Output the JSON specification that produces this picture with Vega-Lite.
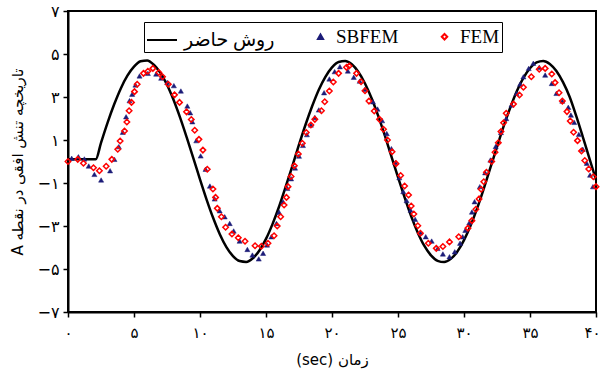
{
  "$schema": "https://vega.github.io/schema/vega-lite/v6.json",
  "width": 528,
  "height": 301,
  "autosize": "none",
  "padding": {"left": 68, "top": 11, "right": 5, "bottom": 75},
  "background": "white",
  "config": {
    "view": {"stroke": "black", "strokeWidth": 2},
    "font": "DejaVu Sans"
  },
  "datasets": {
    "line": [
      {"t": 0, "v": 0.1, "s": "روش حاضر"}, {"t": 0.5, "v": 0.1, "s": "روش حاضر"}, {"t": 1, "v": 0.1, "s": "روش حاضر"}, {"t": 1.5, "v": 0.1, "s": "روش حاضر"}, {"t": 2.1, "v": 0.1, "s": "روش حاضر"},
      {"t": 2.5, "v": 0.87, "s": "روش حاضر"}, {"t": 3, "v": 1.81, "s": "روش حاضر"}, {"t": 3.5, "v": 2.66, "s": "روش حاضر"}, {"t": 4, "v": 3.4, "s": "روش حاضر"},
      {"t": 4.5, "v": 3.99, "s": "روش حاضر"}, {"t": 5, "v": 4.41, "s": "روش حاضر"}, {"t": 5.5, "v": 4.66, "s": "روش حاضر"}, {"t": 6, "v": 4.7, "s": "روش حاضر"},
      {"t": 6.5, "v": 4.5, "s": "روش حاضر"}, {"t": 7, "v": 4.12, "s": "روش حاضر"}, {"t": 7.5, "v": 3.57, "s": "روش حاضر"}, {"t": 8, "v": 2.86, "s": "روش حاضر"},
      {"t": 8.5, "v": 2.03, "s": "روش حاضر"}, {"t": 9, "v": 1.11, "s": "روش حاضر"}, {"t": 9.5, "v": 0.15, "s": "روش حاضر"}, {"t": 10, "v": -0.83, "s": "روش حاضر"},
      {"t": 10.5, "v": -1.77, "s": "روش حاضر"}, {"t": 11, "v": -2.63, "s": "روش حاضر"}, {"t": 11.5, "v": -3.38, "s": "روش حاضر"}, {"t": 12, "v": -3.98, "s": "روش حاضر"},
      {"t": 12.5, "v": -4.4, "s": "روش حاضر"}, {"t": 13, "v": -4.63, "s": "روش حاضر"}, {"t": 13.5, "v": -4.67, "s": "روش حاضر"}, {"t": 14, "v": -4.5, "s": "روش حاضر"},
      {"t": 14.5, "v": -4.14, "s": "روش حاضر"}, {"t": 15, "v": -3.6, "s": "روش حاضر"}, {"t": 15.5, "v": -2.9, "s": "روش حاضر"}, {"t": 16, "v": -2.08, "s": "روش حاضر"},
      {"t": 16.5, "v": -1.16, "s": "روش حاضر"}, {"t": 17, "v": -0.2, "s": "روش حاضر"}, {"t": 17.5, "v": 0.78, "s": "روش حاضر"}, {"t": 18, "v": 1.72, "s": "روش حاضر"},
      {"t": 18.5, "v": 2.58, "s": "روش حاضر"}, {"t": 19, "v": 3.34, "s": "روش حاضر"}, {"t": 19.5, "v": 3.94, "s": "روش حاضر"}, {"t": 20, "v": 4.38, "s": "روش حاضر"},
      {"t": 20.5, "v": 4.63, "s": "روش حاضر"}, {"t": 21, "v": 4.67, "s": "روش حاضر"}, {"t": 21.5, "v": 4.52, "s": "روش حاضر"}, {"t": 22, "v": 4.16, "s": "روش حاضر"},
      {"t": 22.5, "v": 3.63, "s": "روش حاضر"}, {"t": 23, "v": 2.94, "s": "روش حاضر"}, {"t": 23.5, "v": 2.12, "s": "روش حاضر"}, {"t": 24, "v": 1.21, "s": "روش حاضر"},
      {"t": 24.5, "v": 0.24, "s": "روش حاضر"}, {"t": 25, "v": -0.73, "s": "روش حاضر"}, {"t": 25.5, "v": -1.67, "s": "روش حاضر"}, {"t": 26, "v": -2.55, "s": "روش حاضر"},
      {"t": 26.5, "v": -3.31, "s": "روش حاضر"}, {"t": 27, "v": -3.93, "s": "روش حاضر"}, {"t": 27.5, "v": -4.37, "s": "روش حاضر"}, {"t": 28, "v": -4.62, "s": "روش حاضر"},
      {"t": 28.5, "v": -4.68, "s": "روش حاضر"}, {"t": 29, "v": -4.53, "s": "روش حاضر"}, {"t": 29.5, "v": -4.19, "s": "روش حاضر"}, {"t": 30, "v": -3.66, "s": "روش حاضر"},
      {"t": 30.5, "v": -2.98, "s": "روش حاضر"}, {"t": 31, "v": -2.17, "s": "روش حاضر"}, {"t": 31.5, "v": -1.26, "s": "روش حاضر"}, {"t": 32, "v": -0.29, "s": "روش حاضر"},
      {"t": 32.5, "v": 0.68, "s": "روش حاضر"}, {"t": 33, "v": 1.63, "s": "روش حاضر"}, {"t": 33.5, "v": 2.5, "s": "روش حاضر"}, {"t": 34, "v": 3.27, "s": "روش حاضر"},
      {"t": 34.5, "v": 3.89, "s": "روش حاضر"}, {"t": 35, "v": 4.34, "s": "روش حاضر"}, {"t": 35.5, "v": 4.61, "s": "روش حاضر"}, {"t": 36, "v": 4.68, "s": "روش حاضر"},
      {"t": 36.5, "v": 4.54, "s": "روش حاضر"}, {"t": 37, "v": 4.21, "s": "روش حاضر"}, {"t": 37.5, "v": 3.69, "s": "روش حاضر"}, {"t": 38, "v": 3.01, "s": "روش حاضر"},
      {"t": 38.5, "v": 2.12, "s": "روش حاضر"}, {"t": 39, "v": 1.15, "s": "روش حاضر"}, {"t": 39.5, "v": 0.15, "s": "روش حاضر"}, {"t": 40, "v": -0.85, "s": "روش حاضر"}
    ],
    "sbfem": [
      {"t": 0.28, "v": 0.15, "s": "SBFEM"}, {"t": 0.79, "v": 0.22, "s": "SBFEM"}, {"t": 1.24, "v": 0.12, "s": "SBFEM"}, {"t": 1.57, "v": -0.21, "s": "SBFEM"},
      {"t": 2.0, "v": -0.6, "s": "SBFEM"}, {"t": 2.51, "v": -0.86, "s": "SBFEM"}, {"t": 3.19, "v": -0.43, "s": "SBFEM"}, {"t": 3.52, "v": 0.1, "s": "SBFEM"},
      {"t": 3.85, "v": 0.69, "s": "SBFEM"}, {"t": 4.15, "v": 1.36, "s": "SBFEM"}, {"t": 4.4, "v": 2.08, "s": "SBFEM"}, {"t": 4.66, "v": 2.83, "s": "SBFEM"},
      {"t": 4.86, "v": 3.13, "s": "SBFEM"}, {"t": 5.11, "v": 3.56, "s": "SBFEM"}, {"t": 5.42, "v": 3.98, "s": "SBFEM"}, {"t": 6.05, "v": 4.1, "s": "SBFEM"},
      {"t": 6.68, "v": 4.07, "s": "SBFEM"}, {"t": 7.06, "v": 3.88, "s": "SBFEM"}, {"t": 7.52, "v": 3.68, "s": "SBFEM"}, {"t": 8.02, "v": 3.53, "s": "SBFEM"},
      {"t": 8.55, "v": 3.28, "s": "SBFEM"}, {"t": 9.04, "v": 2.58, "s": "SBFEM"}, {"t": 9.26, "v": 2.27, "s": "SBFEM"}, {"t": 9.42, "v": 1.85, "s": "SBFEM"},
      {"t": 9.72, "v": 0.97, "s": "SBFEM"}, {"t": 10.05, "v": 0.26, "s": "SBFEM"}, {"t": 10.42, "v": -0.36, "s": "SBFEM"}, {"t": 10.75, "v": -1.14, "s": "SBFEM"},
      {"t": 11.11, "v": -1.74, "s": "SBFEM"}, {"t": 11.49, "v": -2.29, "s": "SBFEM"}, {"t": 11.87, "v": -2.57, "s": "SBFEM"}, {"t": 12.25, "v": -2.88, "s": "SBFEM"},
      {"t": 12.55, "v": -3.23, "s": "SBFEM"}, {"t": 13.0, "v": -3.7, "s": "SBFEM"}, {"t": 13.59, "v": -4.09, "s": "SBFEM"}, {"t": 13.97, "v": -4.35, "s": "SBFEM"},
      {"t": 14.45, "v": -4.53, "s": "SBFEM"}, {"t": 14.78, "v": -4.27, "s": "SBFEM"}, {"t": 15.08, "v": -3.88, "s": "SBFEM"}, {"t": 15.41, "v": -3.5, "s": "SBFEM"},
      {"t": 15.79, "v": -2.88, "s": "SBFEM"}, {"t": 15.99, "v": -2.36, "s": "SBFEM"}, {"t": 16.29, "v": -1.87, "s": "SBFEM"}, {"t": 16.62, "v": -1.25, "s": "SBFEM"},
      {"t": 16.9, "v": -0.8, "s": "SBFEM"}, {"t": 17.2, "v": -0.3, "s": "SBFEM"}, {"t": 17.5, "v": 0.25, "s": "SBFEM"}, {"t": 17.8, "v": 0.75, "s": "SBFEM"},
      {"t": 18.1, "v": 1.25, "s": "SBFEM"}, {"t": 18.4, "v": 1.7, "s": "SBFEM"}, {"t": 18.7, "v": 2.05, "s": "SBFEM"}, {"t": 19.0, "v": 2.4, "s": "SBFEM"},
      {"t": 19.4, "v": 3.2, "s": "SBFEM"}, {"t": 19.8, "v": 3.84, "s": "SBFEM"}, {"t": 20.2, "v": 4.18, "s": "SBFEM"}, {"t": 20.6, "v": 4.41, "s": "SBFEM"},
      {"t": 21.2, "v": 4.21, "s": "SBFEM"}, {"t": 21.65, "v": 3.92, "s": "SBFEM"}, {"t": 22.1, "v": 3.74, "s": "SBFEM"}, {"t": 22.5, "v": 3.36, "s": "SBFEM"},
      {"t": 23.1, "v": 2.78, "s": "SBFEM"}, {"t": 23.45, "v": 2.44, "s": "SBFEM"}, {"t": 23.8, "v": 1.9, "s": "SBFEM"}, {"t": 24.15, "v": 1.3, "s": "SBFEM"},
      {"t": 24.5, "v": 0.6, "s": "SBFEM"}, {"t": 24.8, "v": -0.05, "s": "SBFEM"}, {"t": 25.1, "v": -0.75, "s": "SBFEM"}, {"t": 25.4, "v": -1.4, "s": "SBFEM"},
      {"t": 25.65, "v": -1.82, "s": "SBFEM"}, {"t": 25.95, "v": -2.26, "s": "SBFEM"}, {"t": 26.3, "v": -2.69, "s": "SBFEM"}, {"t": 26.7, "v": -3.31, "s": "SBFEM"},
      {"t": 27.1, "v": -3.5, "s": "SBFEM"}, {"t": 27.55, "v": -3.7, "s": "SBFEM"}, {"t": 28.0, "v": -4.04, "s": "SBFEM"}, {"t": 28.4, "v": -4.3, "s": "SBFEM"},
      {"t": 28.9, "v": -4.43, "s": "SBFEM"}, {"t": 29.3, "v": -4.2, "s": "SBFEM"}, {"t": 29.7, "v": -3.8, "s": "SBFEM"}, {"t": 29.9, "v": -3.5, "s": "SBFEM"},
      {"t": 30.1, "v": -3.2, "s": "SBFEM"}, {"t": 30.4, "v": -2.85, "s": "SBFEM"}, {"t": 30.6, "v": -2.35, "s": "SBFEM"}, {"t": 30.8, "v": -1.87, "s": "SBFEM"},
      {"t": 31.2, "v": -1.17, "s": "SBFEM"}, {"t": 31.6, "v": -0.52, "s": "SBFEM"}, {"t": 32.0, "v": 0.07, "s": "SBFEM"}, {"t": 32.4, "v": 0.7, "s": "SBFEM"},
      {"t": 32.8, "v": 1.35, "s": "SBFEM"}, {"t": 33.2, "v": 2.0, "s": "SBFEM"}, {"t": 33.6, "v": 2.63, "s": "SBFEM"}, {"t": 33.98, "v": 3.17, "s": "SBFEM"},
      {"t": 34.25, "v": 3.6, "s": "SBFEM"}, {"t": 34.5, "v": 3.94, "s": "SBFEM"}, {"t": 34.9, "v": 4.33, "s": "SBFEM"}, {"t": 35.25, "v": 4.57, "s": "SBFEM"},
      {"t": 35.7, "v": 4.38, "s": "SBFEM"}, {"t": 36.15, "v": 4.02, "s": "SBFEM"}, {"t": 36.65, "v": 3.63, "s": "SBFEM"}, {"t": 37.0, "v": 3.17, "s": "SBFEM"},
      {"t": 37.45, "v": 2.81, "s": "SBFEM"}, {"t": 37.9, "v": 2.52, "s": "SBFEM"}, {"t": 38.1, "v": 2.16, "s": "SBFEM"}, {"t": 38.35, "v": 1.82, "s": "SBFEM"},
      {"t": 38.7, "v": 1.26, "s": "SBFEM"}, {"t": 39.0, "v": 0.57, "s": "SBFEM"}, {"t": 39.3, "v": -0.08, "s": "SBFEM"}, {"t": 39.55, "v": -0.63, "s": "SBFEM"},
      {"t": 39.77, "v": -1.17, "s": "SBFEM"}
    ],
    "fem": [
      {"t": 0, "v": 0.0, "s": "FEM"}, {"t": 0.74, "v": 0.1, "s": "FEM"}, {"t": 1.17, "v": -0.08, "s": "FEM"}, {"t": 1.93, "v": -0.29, "s": "FEM"},
      {"t": 2.38, "v": -0.43, "s": "FEM"}, {"t": 2.89, "v": -0.22, "s": "FEM"}, {"t": 3.32, "v": 0.1, "s": "FEM"}, {"t": 3.77, "v": 0.57, "s": "FEM"},
      {"t": 3.95, "v": 0.95, "s": "FEM"}, {"t": 4.28, "v": 1.42, "s": "FEM"}, {"t": 4.46, "v": 1.84, "s": "FEM"}, {"t": 4.63, "v": 2.36, "s": "FEM"},
      {"t": 4.81, "v": 2.75, "s": "FEM"}, {"t": 5.04, "v": 3.25, "s": "FEM"}, {"t": 5.24, "v": 3.59, "s": "FEM"}, {"t": 5.72, "v": 4.1, "s": "FEM"},
      {"t": 6.05, "v": 4.2, "s": "FEM"}, {"t": 6.43, "v": 4.33, "s": "FEM"}, {"t": 6.88, "v": 4.14, "s": "FEM"}, {"t": 7.16, "v": 3.94, "s": "FEM"},
      {"t": 7.6, "v": 3.59, "s": "FEM"}, {"t": 8.07, "v": 3.1, "s": "FEM"}, {"t": 8.45, "v": 2.75, "s": "FEM"}, {"t": 8.98, "v": 2.31, "s": "FEM"},
      {"t": 9.34, "v": 1.95, "s": "FEM"}, {"t": 9.6, "v": 1.45, "s": "FEM"}, {"t": 9.92, "v": 1.03, "s": "FEM"}, {"t": 10.22, "v": 0.53, "s": "FEM"},
      {"t": 10.55, "v": -0.36, "s": "FEM"}, {"t": 10.98, "v": -1.28, "s": "FEM"}, {"t": 11.18, "v": -1.67, "s": "FEM"}, {"t": 11.31, "v": -2.18, "s": "FEM"},
      {"t": 11.62, "v": -2.57, "s": "FEM"}, {"t": 11.94, "v": -3.06, "s": "FEM"}, {"t": 12.42, "v": -3.37, "s": "FEM"}, {"t": 12.9, "v": -3.55, "s": "FEM"},
      {"t": 13.41, "v": -3.71, "s": "FEM"}, {"t": 14.17, "v": -3.92, "s": "FEM"}, {"t": 14.65, "v": -3.94, "s": "FEM"}, {"t": 15.15, "v": -3.8, "s": "FEM"},
      {"t": 15.61, "v": -3.45, "s": "FEM"}, {"t": 15.85, "v": -3.0, "s": "FEM"}, {"t": 16.11, "v": -2.57, "s": "FEM"}, {"t": 16.37, "v": -2.02, "s": "FEM"},
      {"t": 16.55, "v": -1.67, "s": "FEM"}, {"t": 16.67, "v": -1.17, "s": "FEM"}, {"t": 16.9, "v": -0.7, "s": "FEM"}, {"t": 17.15, "v": -0.2, "s": "FEM"},
      {"t": 17.45, "v": 0.35, "s": "FEM"}, {"t": 17.75, "v": 0.85, "s": "FEM"}, {"t": 18.05, "v": 1.35, "s": "FEM"}, {"t": 18.4, "v": 1.7, "s": "FEM"},
      {"t": 18.7, "v": 1.96, "s": "FEM"}, {"t": 19.2, "v": 2.36, "s": "FEM"}, {"t": 19.45, "v": 2.78, "s": "FEM"}, {"t": 19.8, "v": 3.28, "s": "FEM"},
      {"t": 20.1, "v": 3.7, "s": "FEM"}, {"t": 20.5, "v": 4.1, "s": "FEM"}, {"t": 21.1, "v": 4.38, "s": "FEM"}, {"t": 21.3, "v": 4.44, "s": "FEM"},
      {"t": 21.86, "v": 4.1, "s": "FEM"}, {"t": 22.2, "v": 3.71, "s": "FEM"}, {"t": 22.5, "v": 3.29, "s": "FEM"}, {"t": 22.8, "v": 2.81, "s": "FEM"},
      {"t": 23.2, "v": 2.35, "s": "FEM"}, {"t": 23.6, "v": 1.96, "s": "FEM"}, {"t": 23.9, "v": 1.5, "s": "FEM"}, {"t": 24.2, "v": 1.0, "s": "FEM"},
      {"t": 24.55, "v": 0.45, "s": "FEM"}, {"t": 24.85, "v": -0.1, "s": "FEM"}, {"t": 25.2, "v": -0.65, "s": "FEM"}, {"t": 25.5, "v": -1.14, "s": "FEM"},
      {"t": 25.8, "v": -1.56, "s": "FEM"}, {"t": 26.0, "v": -2.07, "s": "FEM"}, {"t": 26.2, "v": -2.44, "s": "FEM"}, {"t": 26.5, "v": -2.99, "s": "FEM"},
      {"t": 26.7, "v": -3.34, "s": "FEM"}, {"t": 27.3, "v": -3.8, "s": "FEM"}, {"t": 27.9, "v": -4.04, "s": "FEM"}, {"t": 28.4, "v": -3.95, "s": "FEM"},
      {"t": 28.9, "v": -3.74, "s": "FEM"}, {"t": 29.6, "v": -3.5, "s": "FEM"}, {"t": 30.3, "v": -3.1, "s": "FEM"}, {"t": 30.6, "v": -2.75, "s": "FEM"},
      {"t": 30.9, "v": -2.22, "s": "FEM"}, {"t": 31.14, "v": -1.74, "s": "FEM"}, {"t": 31.3, "v": -1.29, "s": "FEM"}, {"t": 31.5, "v": -0.94, "s": "FEM"},
      {"t": 31.7, "v": -0.5, "s": "FEM"}, {"t": 32.1, "v": 0.0, "s": "FEM"}, {"t": 32.35, "v": 0.43, "s": "FEM"}, {"t": 32.6, "v": 0.87, "s": "FEM"},
      {"t": 32.8, "v": 1.39, "s": "FEM"}, {"t": 33.0, "v": 1.8, "s": "FEM"}, {"t": 33.2, "v": 2.24, "s": "FEM"}, {"t": 33.75, "v": 2.67, "s": "FEM"},
      {"t": 34.2, "v": 3.09, "s": "FEM"}, {"t": 34.5, "v": 3.45, "s": "FEM"}, {"t": 35.1, "v": 3.94, "s": "FEM"}, {"t": 35.7, "v": 4.29, "s": "FEM"},
      {"t": 36.15, "v": 4.33, "s": "FEM"}, {"t": 36.65, "v": 4.07, "s": "FEM"}, {"t": 36.9, "v": 3.67, "s": "FEM"}, {"t": 37.2, "v": 3.2, "s": "FEM"},
      {"t": 37.45, "v": 2.81, "s": "FEM"}, {"t": 37.8, "v": 2.32, "s": "FEM"}, {"t": 38.05, "v": 1.88, "s": "FEM"}, {"t": 38.3, "v": 1.36, "s": "FEM"},
      {"t": 38.6, "v": 0.97, "s": "FEM"}, {"t": 38.9, "v": 0.49, "s": "FEM"}, {"t": 39.15, "v": 0.05, "s": "FEM"}, {"t": 39.45, "v": -0.35, "s": "FEM"},
      {"t": 39.8, "v": -0.71, "s": "FEM"}, {"t": 40.0, "v": -1.17, "s": "FEM"}
    ]
  },
  "encoding": {
    "x": {
      "field": "t", "type": "quantitative",
      "scale": {"domain": [0, 40], "nice": false, "zero": false},
      "axis": {
        "values": [0, 5, 10, 15, 20, 25, 30, 35, 40],
        "title": "(sec) زمان",
        "labelExpr": "replace(replace(replace(replace(replace(replace(replace(replace(replace(replace(datum.label,'0','۰'),'1','۱'),'2','۲'),'3','۳'),'4','۴'),'5','۵'),'6','۶'),'7','۷'),'8','۸'),'9','۹')",
        "grid": false, "domainColor": "black", "domainWidth": 2, "tickColor": "black", "tickWidth": 1.5, "tickSize": 5,
        "labelFontSize": 15, "labelColor": "black", "labelPadding": 8, "labelFlush": true, "labelFlushOffset": 4,
        "titleFontSize": 15, "titleFontWeight": "normal", "titleColor": "black", "titlePadding": 12
      }
    },
    "y": {
      "field": "v", "type": "quantitative",
      "scale": {"domain": [-7, 7], "nice": false, "zero": false},
      "axis": {
        "values": [-7, -5, -3, -1, 1, 3, 5, 7],
        "title": "A تاریخچه تنش افقی در نقطه",
        "labelExpr": "replace(replace(replace(replace(replace(replace(replace(replace(replace(replace(replace(datum.label,'0','۰'),'1','۱'),'2','۲'),'3','۳'),'4','۴'),'5','۵'),'6','۶'),'7','۷'),'8','۸'),'9','۹'),'-','−')",
        "grid": false, "domainColor": "black", "domainWidth": 2, "tickColor": "black", "tickWidth": 1.5, "tickSize": 5,
        "labelFontSize": 16, "labelColor": "black", "labelPadding": 4, "labelFlush": false,
        "titleFontSize": 15, "titleFontWeight": "normal", "titleColor": "black", "titlePadding": 12
      }
    },
    "stroke": {
      "field": "s", "type": "nominal",
      "scale": {"domain": ["روش حاضر", "SBFEM", "FEM"], "range": ["#000000", "#1c1c78", "#ff0000"]},
      "legend": {
        "orient": "none", "legendX": 76, "legendY": 11, "direction": "horizontal",
        "title": null,
        "padding": 2, "strokeColor": "black", "fillColor": "white",
        "labelFont": "'Liberation Serif', 'DejaVu Sans'", "labelFontSize": 19, "labelColor": "black", "labelOffset": 6,
        "symbolStrokeWidth": 2, "columnPadding": 36
      }
    }
  },
  "layer": [
    {"data": {"name": "line"}, "mark": {"type": "line", "strokeWidth": 2.5, "interpolate": "monotone"}},
    {
      "data": {"name": "sbfem"},
      "mark": {"type": "point", "filled": true, "strokeWidth": 0.5, "opacity": 1},
      "encoding": {
        "fill": {"field": "s", "type": "nominal", "scale": {"domain": ["روش حاضر", "SBFEM", "FEM"], "range": ["transparent", "#1c1c78", "transparent"]}, "legend": {"title": null}},
        "shape": {"field": "s", "type": "nominal", "scale": {"domain": ["روش حاضر", "SBFEM", "FEM"], "range": ["stroke", "triangle-up", "diamond"]}, "legend": {"title": null}},
        "size": {"field": "s", "type": "nominal", "scale": {"type": "ordinal", "domain": ["روش حاضر", "SBFEM", "FEM"], "range": [900, 26, 30]}, "legend": {"title": null}}
      }
    },
    {
      "data": {"name": "fem"},
      "mark": {"type": "point", "filled": true, "strokeWidth": 1.5, "opacity": 1},
      "encoding": {
        "fill": {"field": "s", "type": "nominal", "scale": {"domain": ["روش حاضر", "SBFEM", "FEM"], "range": ["transparent", "#1c1c78", "transparent"]}, "legend": {"title": null}},
        "shape": {"field": "s", "type": "nominal", "scale": {"domain": ["روش حاضر", "SBFEM", "FEM"], "range": ["stroke", "triangle-up", "diamond"]}, "legend": {"title": null}},
        "size": {"field": "s", "type": "nominal", "scale": {"type": "ordinal", "domain": ["روش حاضر", "SBFEM", "FEM"], "range": [900, 26, 30]}, "legend": {"title": null}}
      }
    }
  ]
}
